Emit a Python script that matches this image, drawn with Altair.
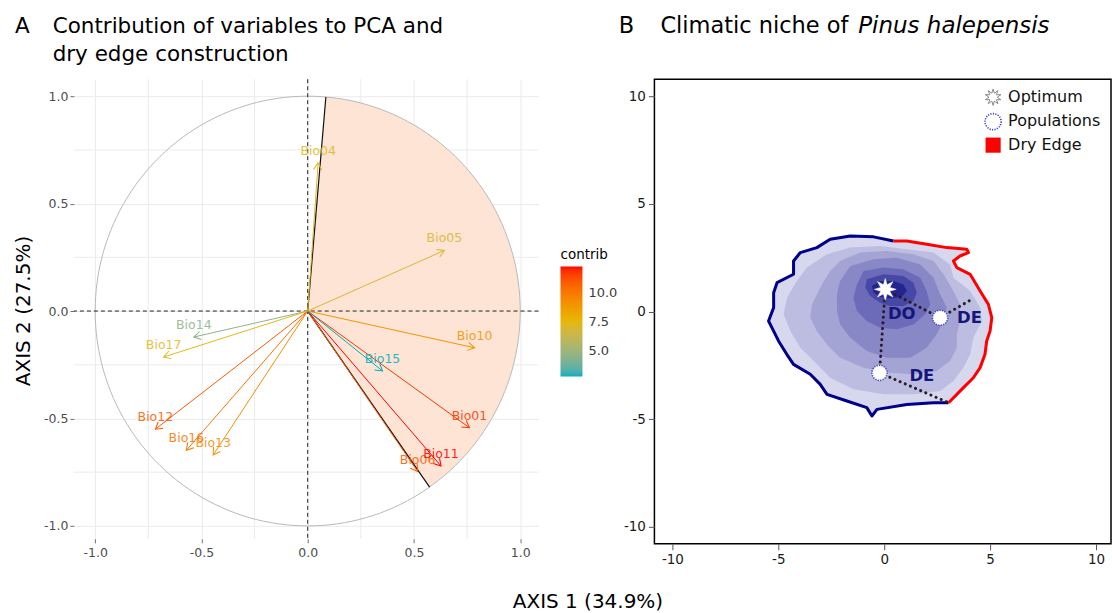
import math
import altair as alt
import pandas as pd

# ---------------- Panel A data (PCA variable loadings) ----------------
VARS = ["Bio01", "Bio04", "Bio05", "Bio06", "Bio10", "Bio11",
        "Bio12", "Bio13", "Bio14", "Bio15", "Bio16", "Bio17"]
PC1 = [0.761, 0.049, 0.643, 0.517, 0.785, 0.627,
       -0.717, -0.445, -0.536, 0.352, -0.571, -0.678]
PC2 = [-0.543, 0.690, 0.282, -0.747, -0.171, -0.721,
       -0.550, -0.670, -0.121, -0.279, -0.648, -0.214]
CONTRIB = [11.8, 7.3, 7.0, 11.0, 9.0, 12.3,
           11.0, 9.3, 4.6, 2.85, 10.2, 7.4]
EDGE_ANGLES = [85.1, -55.0]          # dry-edge sector limits (degrees)
A_TICKS = [-1.0, -0.5, 0.0, 0.5, 1.0]
A_MINOR = [-0.75, -0.25, 0.25, 0.75]
CONTRIB_TICKS = [5.0, 7.5, 10.0]
CONTRIB_DOMAIN = [2.85, 7.575, 12.3]
CONTRIB_COLORS = ["#00AFBB", "#E7B800", "#FF0000"]

# ---------------- Panel B data (climatic niche) ----------------
B_TICKS = [-10, -5, 0, 5, 10]
EDGE_BLUE = [(0.44, 3.28), (-0.50, 3.47), (-1.60, 3.51), (-2.55, 3.36), (-3.18, 2.97),
             (-3.96, 2.74), (-4.28, 2.35), (-4.28, 1.73), (-5.06, 1.34), (-5.22, 0.87),
             (-5.22, 0.18), (-5.46, -0.44), (-5.22, -0.91), (-4.99, -1.37), (-4.60, -1.99),
             (-4.28, -2.46), (-3.49, -2.92), (-3.02, -3.39), (-2.70, -3.85), (-1.76, -4.16),
             (-0.82, -4.47), (-0.58, -4.86), (-0.34, -4.55), (1.07, -4.32), (2.33, -4.24),
             (3.04, -4.24)]
EDGE_RED = [(3.04, -4.24), (3.58, -3.70), (4.21, -3.08), (4.53, -2.61), (4.76, -1.99),
            (4.84, -1.37), (5.00, -0.91), (5.08, -0.29), (4.92, 0.33), (4.53, 0.95),
            (4.06, 1.73), (3.43, 2.04), (3.27, 2.35), (3.58, 2.58), (3.98, 2.74),
            (3.90, 2.89), (2.96, 2.97), (2.01, 3.13), (1.07, 3.28), (0.44, 3.28)]
LEVEL2 = [(-2.70, 2.66), (-1.60, 2.97), (-0.19, 3.05), (1.07, 2.89), (2.33, 2.74),
          (3.11, 2.19), (3.27, 1.57), (4.06, 0.95), (4.53, 0.18), (4.61, -0.44),
          (4.21, -1.22), (4.06, -1.99), (3.74, -2.61), (3.27, -3.23), (2.64, -3.70),
          (1.38, -3.85), (-0.03, -3.85), (-1.45, -3.62), (-2.55, -3.08), (-3.33, -2.30),
          (-3.96, -1.68), (-4.43, -0.91), (-4.75, -0.13), (-4.59, 0.64), (-4.12, 1.42),
          (-3.65, 2.04)]
LEVEL3 = [(-2.08, 2.35), (-1.13, 2.74), (0.12, 2.81), (1.38, 2.66), (2.33, 2.35),
          (2.80, 1.73), (3.27, 0.95), (3.58, 0.33), (3.58, -0.44), (3.43, -1.06),
          (3.43, -1.68), (3.11, -2.30), (2.48, -2.77), (1.38, -2.92), (0.12, -2.84),
          (-0.97, -2.61), (-2.08, -2.15), (-2.70, -1.53), (-3.18, -0.91), (-3.49, -0.29),
          (-3.41, 0.33), (-3.02, 1.11), (-2.55, 1.88)]
LEVEL4 = [(-1.60, 2.12), (-0.50, 2.43), (0.60, 2.50), (1.70, 2.19), (2.33, 1.57),
          (2.64, 0.80), (2.96, 0.18), (2.80, -0.44), (2.48, -1.06), (2.01, -1.68),
          (1.23, -2.15), (0.12, -2.15), (-0.82, -1.84), (-1.60, -1.22), (-2.08, -0.60),
          (-2.23, 0.02), (-2.23, 0.80), (-2.08, 1.42)]
LEVEL5 = [(-0.97, 1.88), (-0.03, 2.04), (0.91, 1.96), (1.70, 1.57), (2.01, 0.95),
          (2.17, 0.33), (1.93, -0.13), (1.38, -0.60), (0.60, -0.83), (-0.19, -0.75),
          (-0.82, -0.44), (-1.29, 0.02), (-1.45, 0.64), (-1.29, 1.26)]
LEVEL6 = [(-0.82, 1.50), (-0.03, 1.73), (0.91, 1.65), (1.38, 1.34), (1.54, 0.88),
          (1.38, 0.49), (0.91, 0.26), (0.28, 0.26), (-0.19, 0.41), (-0.66, 0.72),
          (-0.89, 1.11)]
LEVEL7 = [(-0.58, 1.19), (-0.19, 1.42), (0.44, 1.42), (0.91, 1.26), (1.07, 0.95),
          (0.83, 0.67), (0.28, 0.61), (-0.19, 0.67), (-0.50, 0.88)]
LEVEL_COLORS = ["#d7d7ed", "#bdbde1", "#a3a3d4", "#8888c7", "#6b6bb9", "#4747a6", "#24248f"]
OPTIMUM = (0.05, 1.03)
POP_X = [2.64, -0.22]
POP_Y = [-0.29, -2.85]
EDGE_PT_X = [4.14, 3.04]
EDGE_PT_Y = [0.57, -4.24]
LBL_TXT = ["DO", "DE", "DE"]
LBL_X = [0.83, 4.03, 1.78]
LBL_Y = [-0.10, -0.29, -3.00]
LEGEND_B = ["Optimum", "Populations", "Dry Edge"]

FONT = "DejaVu Sans"


def star_path(n=8, r_in=0.45):
    pts = []
    for k in range(2 * n):
        r = 1.0 if k % 2 == 0 else r_in
        a = math.pi * k / n - math.pi / 2
        pts.append(f"{r * math.cos(a):.3f},{r * math.sin(a):.3f}")
    return "M" + " L".join(pts) + " Z"


STAR = star_path()
ARROW = "M -1 -0.6 L 0 0 L -1 0.6"


def one(txt):
    return alt.Chart(pd.DataFrame({"t": [txt]}))


def poly_df(pts):
    return pd.DataFrame({"x": [p[0] for p in pts] + [pts[0][0]],
                         "y": [p[1] for p in pts] + [pts[0][1]],
                         "i": list(range(len(pts) + 1))})


# ======================= PANEL A =======================
AXD = [-1.1, 1.086]
AYD = [-1.06, 1.079]
NEG1 = "(datum.value < 0 ? '-' : '') + format(abs(datum.value), '.1f')"
ax_ax = alt.Axis(values=A_TICKS, labelExpr=NEG1, title=None, grid=True, gridColor="#ebebeb",
                 domain=False, tickColor="#6e6e6e", tickSize=4, labelColor="#4d4d4d",
                 labelFontSize=12.5, labelPadding=4, labelFont=FONT)
ax_ay = alt.Axis(values=A_TICKS, labelExpr=NEG1, title=None, grid=True, gridColor="#ebebeb",
                 domain=False, tickColor="#6e6e6e", tickSize=4, labelColor="#4d4d4d",
                 labelFontSize=12.5, labelPadding=2, labelFont=FONT)


def AX(f):
    return alt.X(f, type="quantitative", scale=alt.Scale(domain=AXD, nice=False, zero=False), axis=ax_ax)


def AY(f):
    return alt.Y(f, type="quantitative", scale=alt.Scale(domain=AYD, nice=False, zero=False), axis=ax_ay)


contrib_legend = alt.Legend(type="gradient", orient="none", legendX=487, legendY=169,
                            title="contrib", values=CONTRIB_TICKS, format=".1f",
                            gradientLength=110, gradientThickness=22, titleFontSize=13.5,
                            titleFont=FONT, titleFontWeight="normal", titleColor="#000",
                            titlePadding=5, labelFontSize=13, labelFont=FONT,
                            labelColor="#3a3a3a", labelOffset=6, labelOverlap=False,
                            padding=0, gradientStrokeWidth=0, direction="vertical")
# arrows (rule + head) share one stroke scale and one legend
stroke_enc = alt.Stroke("contrib:Q",
                        scale=alt.Scale(domain=CONTRIB_DOMAIN, range=CONTRIB_COLORS, interpolate="lab"),
                        legend=contrib_legend)
# labels use the same colours through a fill scale (expressed with domainMid so it keeps its own legend slot)
fill_enc = alt.Fill("contrib:Q",
                    scale=alt.Scale(domain=[CONTRIB_DOMAIN[0], CONTRIB_DOMAIN[2]], domainMid=CONTRIB_DOMAIN[1],
                                    range=CONTRIB_COLORS, interpolate="lab"),
                    legend=None)

arr = pd.DataFrame({"var": VARS, "pc1": PC1, "pc2": PC2, "contrib": CONTRIB})
arr["zero"] = 0.0
arr["ang"] = [(-math.degrees(math.atan2(b, a))) % 360 for a, b in zip(PC1, PC2)]

n_arc = int(abs(EDGE_ANGLES[0] - EDGE_ANGLES[1]))
sect_ang = [EDGE_ANGLES[0] + (EDGE_ANGLES[1] - EDGE_ANGLES[0]) * k / n_arc for k in range(n_arc + 1)]
sect = pd.DataFrame({"x": [0.0] + [math.cos(math.radians(a)) for a in sect_ang] + [0.0],
                     "y": [0.0] + [math.sin(math.radians(a)) for a in sect_ang] + [0.0]})
sect["i"] = range(len(sect))
circ = pd.DataFrame({"i": range(181)})
circ["x"] = [math.cos(2 * math.pi * k / 180) for k in circ["i"]]
circ["y"] = [math.sin(2 * math.pi * k / 180) for k in circ["i"]]
edges = pd.DataFrame({"x": [math.cos(math.radians(a)) for a in EDGE_ANGLES],
                      "y": [math.sin(math.radians(a)) for a in EDGE_ANGLES]})
edges["zero"] = 0.0
minor = pd.DataFrame({"v": A_MINOR})
zero_df = pd.DataFrame({"v": [0.0]})

a_layers = [
    alt.Chart(minor).mark_rule(color="#ebebeb", strokeWidth=1).encode(x=AX("v")),
    alt.Chart(minor).mark_rule(color="#ebebeb", strokeWidth=1).encode(y=AY("v")),
    alt.Chart(sect).mark_line(fill="#fde4d4", stroke="transparent").encode(x=AX("x"), y=AY("y"), order="i:Q"),
    alt.Chart(circ).mark_line(color="#b9b9b9", strokeWidth=1).encode(x=AX("x"), y=AY("y"), order="i:Q"),
    alt.Chart(zero_df).mark_rule(color="#222", strokeDash=[4, 3], strokeWidth=1).encode(x=AX("v")),
    alt.Chart(zero_df).mark_rule(color="#222", strokeDash=[4, 3], strokeWidth=1).encode(y=AY("v")),
    alt.Chart(edges).mark_rule(color="#111", strokeWidth=1.2).encode(x=AX("zero"), y=AY("zero"), x2="x", y2="y"),
    alt.Chart(arr).mark_rule(strokeWidth=1).encode(x=AX("zero"), y=AY("zero"), x2="pc1", y2="pc2",
                                                   stroke=stroke_enc),
    alt.Chart(arr).mark_point(shape=ARROW, filled=False, size=190, strokeWidth=1, opacity=1).encode(
        x=AX("pc1"), y=AY("pc2"), stroke=stroke_enc, angle=alt.Angle("ang:Q", scale=None)),
    alt.Chart(arr).mark_text(dy=-12, fontSize=12.5, font=FONT, opacity=0.85).encode(
        x=AX("pc1"), y=AY("pc2"), text="var:N", fill=fill_enc),
    one("A").mark_text(align="left", baseline="alphabetic", fontSize=21.5, font=FONT, color="#000").encode(
        x=alt.value(-59), y=alt.value(-46.3), text="t:N"),
    one("Contribution of variables to PCA and").mark_text(align="left", baseline="alphabetic", fontSize=21.5,
                                                        font=FONT, color="#000").encode(
        x=alt.value(-21.3), y=alt.value(-46.3), text="t:N"),
    one("dry edge construction").mark_text(align="left", baseline="alphabetic", fontSize=21.5,
                                          font=FONT, color="#000").encode(
        x=alt.value(-21.3), y=alt.value(-18.7), text="t:N"),
    one("AXIS 2 (27.5%)").mark_text(angle=270, align="center", baseline="middle", fontSize=20,
                                   font=FONT, color="#000").encode(
        x=alt.value(-50), y=alt.value(232), text="t:N"),
    one("AXIS 1 (34.9%)").mark_text(align="center", baseline="middle", fontSize=20,
                                   font=FONT, color="#000").encode(
        x=alt.value(514.5), y=alt.value(523.7), text="t:N"),
    one("").mark_rule(opacity=0, strokeWidth=0).encode(
        x=alt.value(-73), x2=alt.value(-73), y=alt.value(-78), y2=alt.value(-78)),
]
panel_a = alt.layer(*a_layers).properties(width=465, height=460)

# ======================= PANEL B =======================
BXD = [-10.85, 10.71]
BYD = [-10.8, 10.8]
NEG0 = "(datum.value < 0 ? '-' : '') + abs(datum.value)"
ax_bx = alt.Axis(values=B_TICKS, labelExpr=NEG0, title=None, grid=False, domain=False,
                 tickColor="#555", tickSize=6, labelColor="#1a1a1a", labelFontSize=13.5,
                 labelPadding=3, labelFont=FONT)
ax_by = alt.Axis(values=B_TICKS, labelExpr=NEG0, title=None, grid=False, domain=False,
                 tickColor="#555", tickSize=6, labelColor="#1a1a1a", labelFontSize=13.5,
                 labelPadding=3, labelFont=FONT)


def BX(f):
    return alt.X(f, type="quantitative", scale=alt.Scale(domain=BXD, nice=False, zero=False), axis=ax_bx)


def BY(f):
    return alt.Y(f, type="quantitative", scale=alt.Scale(domain=BYD, nice=False, zero=False), axis=ax_by)


outer = EDGE_BLUE[:-1] + EDGE_RED[:-1]
levels = [outer, LEVEL2, LEVEL3, LEVEL4, LEVEL5, LEVEL6, LEVEL7]
b_layers = []
for pts, col in zip(levels, LEVEL_COLORS):
    b_layers.append(alt.Chart(poly_df(pts)).mark_line(fill=col, stroke="transparent").encode(
        x=BX("x"), y=BY("y"), order="i:Q"))


def path_df(pts):
    return pd.DataFrame({"x": [p[0] for p in pts], "y": [p[1] for p in pts], "i": range(len(pts))})


b_layers.append(alt.Chart(path_df(EDGE_BLUE)).mark_line(color="#00008b", strokeWidth=3, strokeJoin="round").encode(
    x=BX("x"), y=BY("y"), order="i:Q"))
b_layers.append(alt.Chart(path_df(EDGE_RED)).mark_line(color="#ff0000", strokeWidth=3, strokeJoin="round").encode(
    x=BX("x"), y=BY("y"), order="i:Q"))

segs = pd.DataFrame({
    "seg": [0, 0, 1, 1, 2, 2, 3, 3],
    "i": [0, 1, 0, 1, 0, 1, 0, 1],
    "x": [OPTIMUM[0], POP_X[0], POP_X[0], EDGE_PT_X[0], OPTIMUM[0], POP_X[1], POP_X[1], EDGE_PT_X[1]],
    "y": [OPTIMUM[1], POP_Y[0], POP_Y[0], EDGE_PT_Y[0], OPTIMUM[1], POP_Y[1], POP_Y[1], EDGE_PT_Y[1]],
})
b_layers.append(alt.Chart(segs).mark_line(color="#2a1a2a", strokeWidth=3, strokeDash=[0.1, 5.5],
                                          strokeCap="round").encode(
    x=BX("x"), y=BY("y"), order="i:Q", detail="seg:N"))
pops = pd.DataFrame({"x": POP_X, "y": POP_Y})
b_layers.append(alt.Chart(pops).mark_point(shape="circle", fill="white", stroke="#4040d8", strokeWidth=1.6,
                                           strokeDash=[1.2, 1.3], size=230, opacity=1).encode(
    x=BX("x"), y=BY("y")))
opt = pd.DataFrame({"x": [OPTIMUM[0]], "y": [OPTIMUM[1]]})
b_layers.append(alt.Chart(opt).mark_point(shape=STAR, fill="white", stroke="white", strokeWidth=0.5,
                                          size=480, opacity=1).encode(x=BX("x"), y=BY("y")))
lbl = pd.DataFrame({"t": LBL_TXT, "x": LBL_X, "y": LBL_Y})
b_layers.append(alt.Chart(lbl).mark_text(fontSize=16.5, fontWeight="bold", font=FONT, color="#15157a").encode(
    x=BX("x"), y=BY("y"), text="t:N"))

# legend of panel B
b_layers.append(one(LEGEND_B[0]).mark_point(shape=star_path(10, 0.5), fill="white", stroke="#8a8a8a",
                                            strokeWidth=1, size=270, opacity=1).encode(
    x=alt.value(339), y=alt.value(18)))
b_layers.append(one(LEGEND_B[1]).mark_point(shape="circle", fill="white", stroke="#4040d8", strokeWidth=1.6,
                                            strokeDash=[1.2, 1.3], size=260, opacity=1).encode(
    x=alt.value(339), y=alt.value(42.5)))
b_layers.append(one(LEGEND_B[2]).mark_point(shape="square", fill="#ff0000", stroke="#ff0000", strokeWidth=0,
                                            size=230, opacity=1).encode(
    x=alt.value(339), y=alt.value(66)))
for k, name in enumerate(LEGEND_B):
    b_layers.append(one(name).mark_text(align="left", baseline="middle", fontSize=16, font=FONT,
                                        color="#111").encode(
        x=alt.value(354), y=alt.value(18 + 24 * k), text="t:N"))

b_layers.append(one("B").mark_text(align="left", baseline="alphabetic", fontSize=22.5, font=FONT,
                                   color="#000").encode(x=alt.value(-35.7), y=alt.value(-46.3), text="t:N"))
b_layers.append(one("Climatic niche of").mark_text(align="left", baseline="alphabetic", fontSize=22.5,
                                                   font=FONT, color="#000").encode(
    x=alt.value(6), y=alt.value(-46.3), text="t:N"))
b_layers.append(one("Pinus halepensis").mark_text(align="left", baseline="alphabetic", fontSize=23,
                                                  font=FONT, fontStyle="italic", color="#000").encode(
    x=alt.value(204), y=alt.value(-46.3), text="t:N"))

panel_b = alt.layer(*b_layers).properties(
    width=457, height=465, view=alt.ViewBackground(stroke="#000", strokeWidth=1.5))

chart = alt.hconcat(panel_a, panel_b, spacing=116, bounds="flush", padding=0).configure(
    font=FONT).configure_view(stroke="transparent")

chart.save("out.html", embed_options={"renderer": "svg", "actions": False})
